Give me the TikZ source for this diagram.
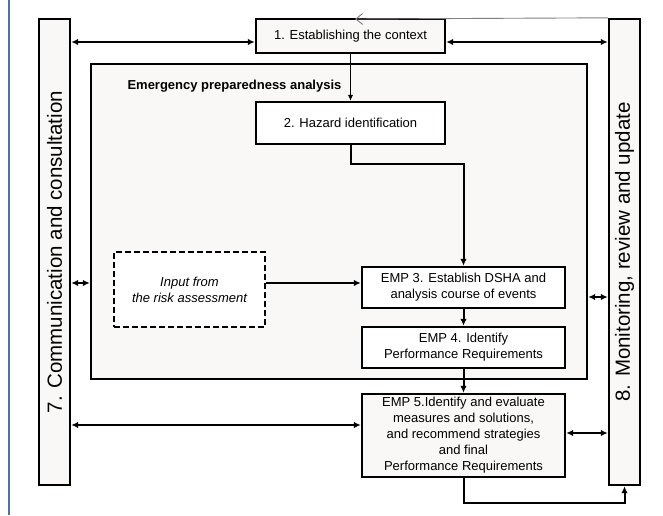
\documentclass[tikz,border=0pt]{standalone}
\usepackage{fontspec}
\setmainfont{Liberation Sans}
\usetikzlibrary{arrows.meta,positioning}
\definecolor{paper}{RGB}{249,248,246}
\definecolor{rulecol}{RGB}{84,112,158}

\begin{document}
\begin{tikzpicture}[x=1pt,y=-1pt,
  font=\fontsize{13}{16}\selectfont,
  box/.style={draw,line width=2.4pt,fill=white,align=center,inner sep=0pt},
  grey/.style={box,fill=paper},
  bar/.style={grey,minimum width=31pt,minimum height=466pt,font=\fontsize{20.5}{24}\selectfont},
  flow/.style={-{Latex[length=7pt,width=6.5pt]},line width=2pt},
  both/.style={{Latex[length=7pt,width=6.5pt]}-{Latex[length=7pt,width=6.5pt]},line width=2pt}
  ]
  \useasboundingbox (0,0) rectangle (663,515);
  \draw[rulecol,line width=2pt] (9,0) -- (9,515);

  % side bars
  \node[bar] (comm) at (54.5,252) {\rotatebox{90}{7. Communication and consultation}};
  \node[bar] (mon) at (624.5,252) {\rotatebox{90}{8. Monitoring, review and update}};

  % analysis frame
  \node[grey,minimum width=496pt,minimum height=315pt] (frame) at (339,221.5) {};
  \node[anchor=west,font=\fontsize{13}{16}\selectfont\bfseries] (title) at (124,86)
    {Emergency preparedness analysis};

  \node[grey,minimum width=189pt,minimum height=34pt] (ctx) at (350.5,36) {1. Establishing the context};
  \node[box,minimum width=189pt,minimum height=42pt] (haz) at (350.5,123) {2. Hazard identification};
  \node[box,dashed,dash pattern=on 6pt off 3pt,minimum width=151pt,minimum height=75pt,
    font=\fontsize{13}{16}\selectfont\itshape] (input) at (189.5,289.5)
    {Input from\\the risk assessment};
  \node[box,minimum width=203pt,minimum height=41pt] (emp3) at (463.5,287.5)
    {EMP 3. Establish DSHA and\\analysis course of events};
  \node[box,minimum width=203pt,minimum height=41pt] (emp4) at (463.5,347.5)
    {EMP 4. Identify\\Performance Requirements};
  \node[grey,minimum width=203pt,minimum height=83pt] (emp5) at (463.5,435.5)
    {EMP 5.Identify and evaluate\\measures and solutions,\\and recommend strategies\\and final\\Performance Requirements};

  % connectors
  \coordinate (back) at (355,19);
  \draw[gray,line width=0.9pt,-{Straight Barb[length=7pt,width=11pt]}] (mon.north west) -- (back);
  \coordinate (c1) at ([yshift=-6pt]ctx.west);
  \coordinate (c2) at ([yshift=-6pt]ctx.east);
  \coordinate (c3) at ([yshift=6.5pt]input.east);
  \coordinate (c4) at ([yshift=-9.5pt]emp3.east);
  \coordinate (c5) at ([yshift=10.5pt]emp5.west);
  \coordinate (c6) at ([yshift=2.5pt]emp5.east);
  \draw[both] (c1 -| comm.east) -- (c1);
  \draw[both] (c2) -- (c2 -| mon.west);
  \draw[-{Latex[length=6pt,width=5.5pt]},line width=1.3pt] (ctx) -- (haz);
  \draw[flow] (haz.south) -- ++(0,19) -| (emp3.north);
  \draw[flow] (c3) -- (c3 -| emp3.west);
  \draw[both] (c3 -| comm.east) -- (c3 -| frame.west);
  \draw[both] (c4 -| frame.east) -- (c4 -| mon.west);
  \draw[flow] (emp3) -- (emp4);
  \draw[flow] (emp4) -- (emp5);
  \draw[both] (c5 -| comm.east) -- (c5);
  \draw[both] (c6) -- (c6 -| mon.west);
  \draw[flow] (emp5.south) -- ++(0,25) -| (mon.south);
\end{tikzpicture}
\end{document}
